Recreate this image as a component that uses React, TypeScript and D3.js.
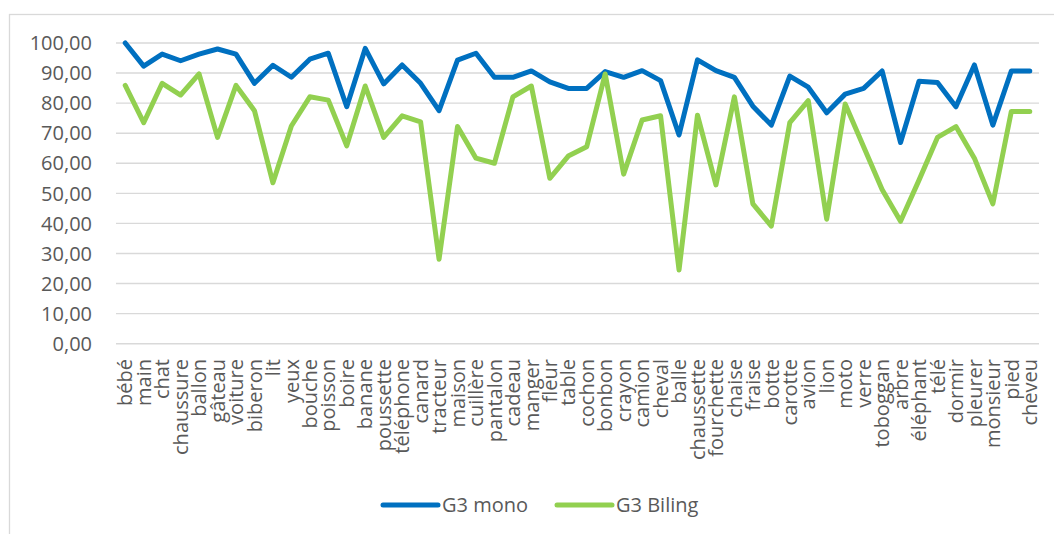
import React, { useEffect, useRef } from 'react';
import * as d3 from 'd3';

const categories = [
  'bébé', 'main', 'chat', 'chaussure', 'ballon', 'gâteau', 'voiture', 'biberon', 'lit', 'yeux',
  'bouche', 'poisson', 'boire', 'banane', 'poussette', 'téléphone', 'canard', 'tracteur', 'maison', 'cuillère',
  'pantalon', 'cadeau', 'manger', 'fleur', 'table', 'cochon', 'bonbon', 'crayon', 'camion', 'cheval',
  'balle', 'chaussette', 'fourchette', 'chaise', 'fraise', 'botte', 'carotte', 'avion', 'lion', 'moto',
  'verre', 'toboggan', 'arbre', 'éléphant', 'télé', 'dormir', 'pleurer', 'monsieur', 'pied', 'cheveu',
];

const mono = [
  100, 92.3, 96.3, 94.1, 96.3, 98.0, 96.3, 86.6, 92.6, 88.6,
  94.6, 96.6, 78.8, 98.2, 86.4, 92.7, 86.6, 77.5, 94.3, 96.6,
  88.6, 88.6, 90.7, 87.1, 84.9, 84.9, 90.5, 88.6, 90.8, 87.5,
  69.4, 94.4, 90.8, 88.6, 79.0, 72.7, 89.0, 85.3, 76.8, 83.0,
  84.9, 90.7, 66.9, 87.3, 86.9, 78.8, 92.7, 72.7, 90.7, 90.7,
];

const biling = [
  85.9, 73.5, 86.6, 82.7, 89.7, 68.6, 85.9, 77.5, 53.5, 72.4,
  82.1, 81.0, 65.8, 85.7, 68.6, 75.8, 73.8, 28.1, 72.2, 61.7,
  60.0, 82.1, 85.7, 55.0, 62.4, 65.5, 89.7, 56.4, 74.4, 75.8,
  24.5, 76.0, 52.8, 82.1, 46.5, 39.1, 73.5, 80.8, 41.4, 79.7,
  65.5, 51.3, 40.7, 54.4, 68.6, 72.2, 61.7, 46.5, 77.2, 77.2,
];

const yTicks = [0, 10, 20, 30, 40, 50, 60, 70, 80, 90, 100];

const series = [
  { name: 'G3 mono', values: mono, color: '#0070C0' },
  { name: 'G3 Biling', values: biling, color: '#92D050' },
];

const W = 1054;
const H = 534;
const FONT = '"Open Sans", "DejaVu Sans", sans-serif';

const App = () => {
  const svgRef = useRef<SVGSVGElement>(null);

  useEffect(() => {
    const svg = d3.select(svgRef.current);
    svg.selectAll('*').remove();

    const left = 116, right = 1039, top = 43, bottom = 343.7;

    const x = d3.scaleBand<string>().domain(categories).range([left, right]);
    const cx = (c: string) => (x(c) as number) + x.bandwidth() / 2;
    const y = d3.scaleLinear().domain([0, 100]).range([bottom, top]);

    svg.append('rect')
      .attr('width', W).attr('height', H).attr('fill', '#fff');

    // chart frame (cropped on right/bottom)
    svg.append('rect')
      .attr('x', 9.5).attr('y', 14.5)
      .attr('width', 1200).attr('height', 700)
      .attr('fill', 'none').attr('stroke', '#d9d9d9').attr('stroke-width', 1.3);

    // gridlines
    svg.append('g')
      .selectAll('line')
      .data(yTicks)
      .enter()
      .append('line')
      .attr('x1', left).attr('x2', right)
      .attr('y1', d => y(d)).attr('y2', d => y(d))
      .attr('stroke', '#d9d9d9').attr('stroke-width', 1.4);

    // y labels
    svg.append('g')
      .selectAll('text')
      .data(yTicks)
      .enter()
      .append('text')
      .attr('x', 92)
      .attr('y', d => y(d))
      .attr('dy', '0.36em')
      .attr('text-anchor', 'end')
      .attr('font-family', FONT)
      .attr('font-size', 20)
      .attr('fill', '#595959')
      .text(d => d3.format('.2f')(d).replace('.', ','));

    // x labels
    svg.append('g')
      .selectAll('text')
      .data(categories)
      .enter()
      .append('text')
      .attr('transform', d => `translate(${cx(d)},359) rotate(-90)`)
      .attr('dy', '0.36em')
      .attr('text-anchor', 'end')
      .attr('font-family', FONT)
      .attr('font-size', 20)
      .attr('fill', '#595959')
      .text(d => d);

    const line = d3.line<number>()
      .x((_, i) => cx(categories[i]))
      .y(d => y(d));

    series.forEach(s => {
      svg.append('path')
        .datum(s.values)
        .attr('d', line)
        .attr('fill', 'none')
        .attr('stroke', s.color)
        .attr('stroke-width', 5)
        .attr('stroke-linejoin', 'round')
        .attr('stroke-linecap', 'round');
    });

    // legend
    const legendItems = [
      { ...series[0], x: 383 },
      { ...series[1], x: 557 },
    ];
    const lg = svg.append('g');
    legendItems.forEach(it => {
      lg.append('line')
        .attr('x1', it.x).attr('x2', it.x + 55)
        .attr('y1', 505).attr('y2', 505)
        .attr('stroke', it.color).attr('stroke-width', 5)
        .attr('stroke-linecap', 'round');
      lg.append('text')
        .attr('x', it.x + 59).attr('y', 505)
        .attr('dy', '0.36em')
        .attr('font-family', FONT)
        .attr('font-size', 20)
        .attr('fill', '#595959')
        .text(it.name);
    });
  }, []);

  return (
    <svg
      ref={svgRef}
      width={W}
      height={H}
      style={{ position: 'fixed', left: 0, top: 0, display: 'block' }}
    />
  );
};

export default App;
